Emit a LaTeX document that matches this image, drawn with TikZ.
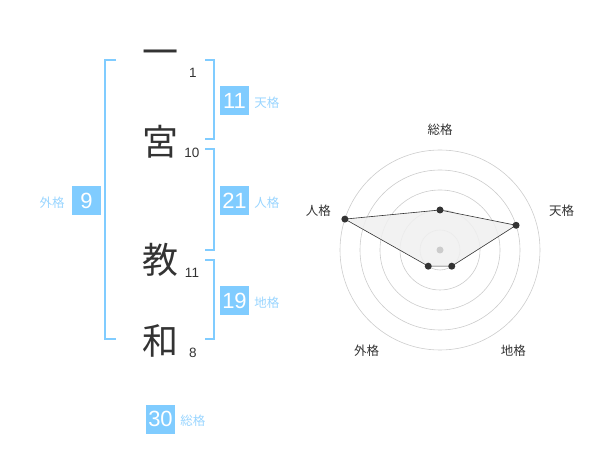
\documentclass[tikz,border=0pt]{standalone}
\usepackage{fontspec}
\setmainfont{Liberation Sans}
\newfontfamily\cjk{Noto Sans CJK JP}
\usetikzlibrary{positioning,calc}
\definecolor{skyblue}{HTML}{80CCFF}
\definecolor{paleblue}{HTML}{99D5FF}
\definecolor{ink}{HTML}{333333}
\definecolor{ring}{HTML}{CCCCCC}
\definecolor{shade}{HTML}{F0F0F0}

\begin{document}
\begin{tikzpicture}[x=1pt,y=-1pt,node distance=5pt,
    kanji/.style={font=\cjk\fontsize{36}{36}\selectfont,text=ink,inner sep=0pt},
    stroke/.style={font=\fontsize{13.5}{13.5}\selectfont,text=ink,inner sep=0pt},
    numbox/.style={fill=skyblue,text=white,minimum size=29pt,inner sep=0pt,
      font=\fontsize{22}{22}\selectfont},
    kaku/.style={font=\cjk\fontsize{12.5}{12.5}\selectfont,text=paleblue,
      inner sep=0pt,yshift=-2pt},
    bracket/.style={draw=skyblue,line width=2pt},
    axis/.style={font=\cjk\fontsize{12.5}{12.5}\selectfont,text=ink,inner sep=0pt},
    dot/.style={circle,fill=ink,inner sep=0pt,minimum size=7pt}]
  \useasboundingbox (0,0) rectangle (600,470);
  % The name, one character under the other, with its stroke counts.
  \node[kanji] (c1) at (160,58) {一};
  \node[kanji] (c2) at (160,142) {宮};
  \node[kanji] (c3) at (160,260) {教};
  \node[kanji] (c4) at (160,341) {和};
  \node[stroke] (n1) at (193,73) {1};
  \node[stroke] (n2) at (192,153) {10};
  \node[stroke] (n3) at (192,273) {11};
  \node[stroke] (n4) at (193,353) {8};
  % Brackets: the outer one on the left, three on the right.
  \draw[bracket] (116,60) -| (105,339) -- (116,339);
  \draw[bracket] (205,60) -| (214,139) -- (205,139);
  \draw[bracket] (205,149) -| (214,250) -- (205,250);
  \draw[bracket] (205,260) -| (214,339) -- (205,339);
  % The five sums.
  \node[numbox] (ten) at (234.5,100.5) {11};
  \node[kaku] [right=of ten] {天格};
  \node[numbox] (jin) at (234.5,200.5) {21};
  \node[kaku] [right=of jin] {人格};
  \node[numbox] (chi) at (234.5,300.5) {19};
  \node[kaku] [right=of chi] {地格};
  \node[numbox] (gai) at (86.5,200.5) {9};
  \node[kaku] [left=7pt of gai] {外格};
  \node[numbox] (sou) at (160.5,419) {30};
  \node[kaku] [right=of sou] {総格};
  % Radar chart.
  \coordinate (o) at (440,250);
  \foreach \r in {20,40,...,100}
    \draw[ring,line width=0.6pt] (o) circle (\r);
  \coordinate (p1) at ($(o)+(-90:40)$);
  \coordinate (p2) at ($(o)+(-18:80)$);
  \coordinate (p3) at ($(o)+(54:20)$);
  \coordinate (p4) at ($(o)+(126:20)$);
  \coordinate (p5) at ($(o)+(198:100)$);
  \filldraw[fill=shade,fill opacity=0.85,draw=ink,line width=0.6pt]
    (p1) -- (p2) -- (p3) -- (p4) -- (p5) -- cycle;
  \fill[ring] (o) circle (3.5);
  \foreach \p in {p1,p2,p3,p4,p5}
    \node[dot] at (\p) {};
  \node[axis] (a1) at ($(o)+(-90:120)$) {総格};
  \node[axis] (a2) at ($(o)+(-18:128)$) {天格};
  \node[axis] (a3) at ($(o)+(54:125)$) {地格};
  \node[axis] (a4) at ($(o)+(126:125)$) {外格};
  \node[axis] (a5) at ($(o)+(198:128)$) {人格};
\end{tikzpicture}
\end{document}
